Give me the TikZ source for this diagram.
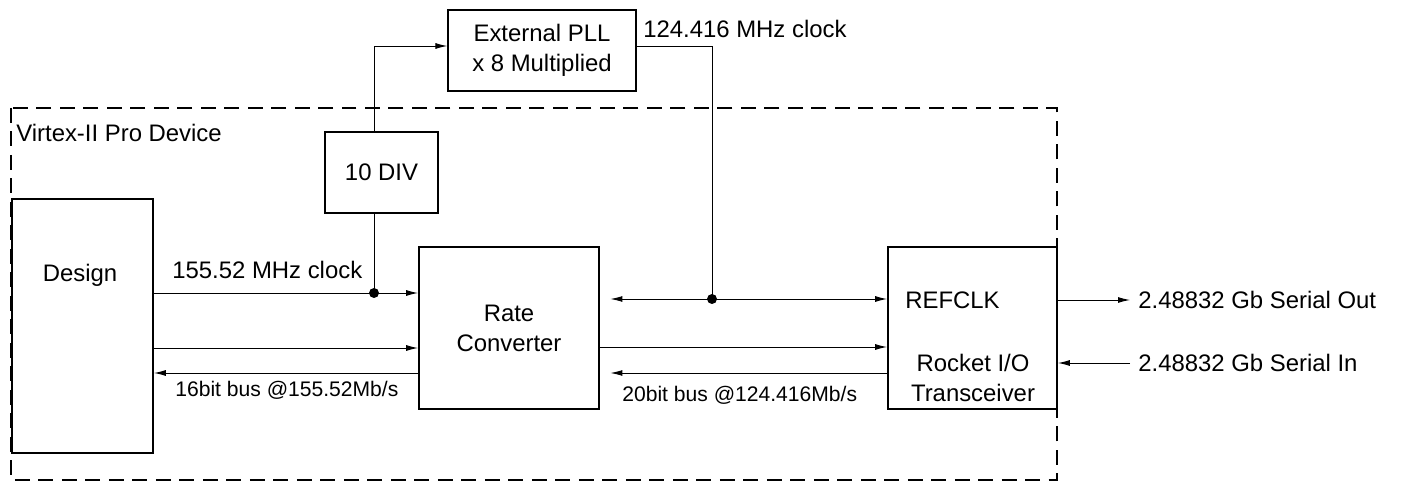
\documentclass[tikz,border=0pt]{standalone}
\usepackage{fontspec}
\setmainfont{Liberation Sans}
\usetikzlibrary{arrows.meta, positioning}

\tikzset{
  blk/.style={draw, line width=1pt, align=center, inner sep=0pt,
    font=\fontsize{13.6}{17}\selectfont},
  lbl/.style={font=\fontsize{13.6}{17}\selectfont, inner sep=0.16cm},
  buslbl/.style={font=\fontsize{12}{14}\selectfont, inner sep=0pt, anchor=west},
  arr/.style={line width=0.55pt, -{Latex[length=2.4mm,width=1.2mm]}},
  wire/.style={line width=0.55pt},
  jdot/.style={circle, fill, inner sep=0pt, minimum size=0.2cm},
}

\begin{document}
\begin{tikzpicture}[x=0.02cm, y=-0.02cm]
  \useasboundingbox (0,0) rectangle (1402,482);
  % device outline
  \draw[line width=0.6pt, dash pattern=on 0.3cm off 0.17cm] (11,108) rectangle (1057,480);
  \node[lbl, anchor=west, inner sep=0pt] (dev) at (16,133) {Virtex-II Pro Device};

  % blocks
  \node[blk, minimum width=2.82cm, minimum height=5.08cm] (design) at (82.5,326) {};
  \node[lbl, inner sep=0pt] (dtxt) at (80,275) {Design};
  \node[blk, minimum width=2.26cm, minimum height=1.62cm] (div) at (381.5,172.5) {10 DIV};
  \node[blk, line width=0.7pt, minimum width=3.76cm, minimum height=1.62cm] (pll) at (542,50.5) {External PLL\\x 8 Multiplied};
  \node[blk, minimum width=3.6cm, minimum height=3.24cm] (rate) at (509,328) {Rate\\Converter};
  \node[blk, minimum width=3.38cm, minimum height=3.24cm] (rocket) at (972.5,328) {};
  \node[lbl, anchor=west, inner sep=0pt] (refclk) at (905,300) {REFCLK};
  \node[lbl, align=center, inner sep=0pt] (rtxt) at (973,378) {Rocket I/O\\Transceiver};

  % clock path
  \coordinate (clk) at (374,293);
  \coordinate (ref) at (712,299);
  \draw[arr] (design.east |- clk) -- (rate.west |- clk);
  \node[jdot] at (clk) {};
  \draw[wire] (clk) -- (clk |- div.south);
  \draw[arr] (clk |- div.north) -- (374,46) -- (pll.west |- 0,46);
  \draw[wire] (pll.east |- 0,46) -- (ref |- 0,46) -- (ref);
  \node[lbl, anchor=west, inner sep=0pt] (pllclk) at (643,29) {124.416 MHz clock};
  \node[buslbl, font=\fontsize{13.6}{17}\selectfont] (clklbl) at (172,270) {155.52 MHz clock};
  \draw[arr] (ref) -- (rocket.west |- ref);
  \draw[arr] (ref) -- ([xshift=6]rate.east |- ref);
  \node[jdot] at (ref) {};

  % data buses
  \draw[arr] (design.east |- 0,348) -- (rate.west |- 0,348);
  \draw[arr] (rate.west |- 0,373) -- (design.east |- 0,373);
  \draw[arr] (rate.east |- 0,347) -- (rocket.west |- 0,347);
  \draw[arr] (rocket.west |- 0,373) -- ([xshift=6]rate.east |- 0,373);
  \node[buslbl] (bus16) at (175,390) {16bit bus @155.52Mb/s};
  \node[buslbl] (bus20) at (622,395) {20bit bus @124.416Mb/s};

  % serial lines
  \node[lbl, anchor=west] (sout) at (1130,300) {2.48832 Gb Serial Out};
  \node[lbl, anchor=west] (sin) at (1130,363) {2.48832 Gb Serial In};
  \draw[arr] (rocket.east |- sout) -- (sout.west);
  \draw[arr] (sin.west) -- (rocket.east |- sin);
\end{tikzpicture}
\end{document}
